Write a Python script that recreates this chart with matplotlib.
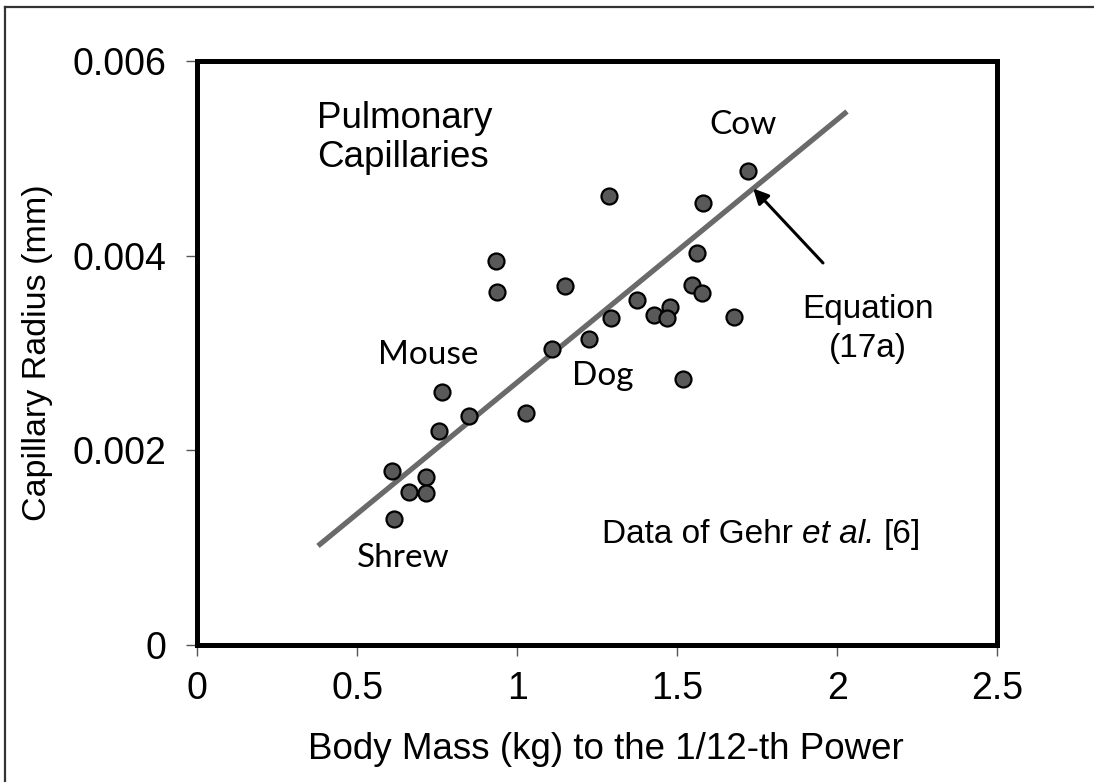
import matplotlib
matplotlib.use("Agg")
import matplotlib.pyplot as plt
import numpy as np
from matplotlib.lines import Line2D

plt.rcParams['font.family'] = ['Liberation Sans', 'DejaVu Sans']

# Body mass (kg) ^ (1/12) and pulmonary capillary radius (mm)
mass_112 = [0.616, 0.609, 0.662, 0.714, 0.714, 0.755, 0.766, 0.849, 1.026,
            0.933, 0.936, 1.109, 1.149, 1.225, 1.287, 1.294, 1.373, 1.428,
            1.477, 1.469, 1.722, 1.581, 1.561, 1.547, 1.578, 1.677, 1.519]
radius_mm = [0.001295, 0.001788, 0.001569, 0.001729, 0.001559, 0.002199,
             0.002602, 0.002356, 0.002381, 0.003945, 0.003630, 0.003041,
             0.003688, 0.003144, 0.004613, 0.003357, 0.003545, 0.003390,
             0.003470, 0.003357, 0.004873, 0.004538, 0.004024, 0.003699,
             0.003614, 0.003373, 0.002733]

# Equation (17a): radius proportional to M^(1/12)
eq_slope = 0.0027
eq_range = [0.377, 2.03]

x_ticks = [0, 0.5, 1, 1.5, 2, 2.5]
x_ticklabels = ['0', '0.5', '1', '1.5', '2', '2.5']
y_ticks = [0, 0.002, 0.004, 0.006]
y_ticklabels = ['0', '0.002', '0.004', '0.006']

fig = plt.figure(figsize=(10.94, 7.82), dpi=100)
ax = fig.add_axes([0.1804, 0.1752, 0.7313, 0.7468])

xs = np.array(eq_range)
ax.plot(xs, eq_slope * xs, color='#6a6a6a', lw=3.8, solid_capstyle='butt', zorder=2)
ax.plot(mass_112, radius_mm, 'o', ms=11.5, mfc='#595959', mec='black', mew=1.6,
        zorder=3)

ax.set_xlim(0, 2.5)
ax.set_ylim(0, 0.006)
ax.set_xticks(x_ticks)
ax.set_xticklabels(x_ticklabels)
ax.set_yticks(y_ticks)
ax.set_yticklabels(y_ticklabels)
ax.tick_params(axis='both', direction='out', length=8, width=1, color='#555555',
               labelsize=27)
ax.tick_params(axis='x', pad=11)
ax.tick_params(axis='y', pad=14)
for s in ax.spines.values():
    s.set_linewidth(3.6)
    s.set_color('black')

ax.set_xlabel('Body Mass (kg) to the 1/12-th Power', fontsize=26.5, labelpad=18)
ax.xaxis.label.set_x(0.51)
ax.set_ylabel('Capillary Radius (mm)', fontsize=24.5, labelpad=14)

# Panel title
ax.text(0.375, 0.005312, 'Pulmonary', fontsize=26.5, ha='left', va='baseline')
ax.text(0.375, 0.004911, 'Capillaries', fontsize=26.5, ha='left', va='baseline')

# Species labels
lab_font = dict(family=['Lato', 'DejaVu Sans'], fontsize=24, ha='center',
                va='baseline')
ax.text(0.721, 0.002887, 'Mouse', **lab_font)
ax.text(1.268, 0.002671, 'Dog', **lab_font)
ax.text(0.643, 0.000801, 'Shrew', **lab_font)
ax.text(1.705, 0.005250, 'Cow', **lab_font)

# Equation label with arrow to the fitted line
ax.text(2.096, 0.003360, 'Equation', fontsize=24, ha='center', va='baseline')
ax.text(2.096, 0.002959, '(17a)', fontsize=24, ha='center', va='baseline')
tip_x = 1.737
ax.annotate('', xy=(tip_x, eq_slope * tip_x), xytext=(1.955, 0.003925),
            arrowprops=dict(arrowstyle='-|>,head_length=0.9,head_width=0.45',
                            color='black', lw=2.2, shrinkA=0, shrinkB=0))

# Data source note, with the italic part set in its own run
space_px = 9
t1 = ax.text(1.265, 0.001048, 'Data of Gehr', fontsize=24, ha='left',
             va='baseline')
t2 = ax.annotate('et al.', xy=(1, 0), xycoords=t1, xytext=(space_px, 0),
                 textcoords='offset pixels', fontsize=24, style='italic',
                 ha='left', va='bottom')
ax.annotate('[6]', xy=(1, 0), xycoords=t2, xytext=(space_px, 0),
            textcoords='offset pixels', fontsize=24, ha='left', va='bottom')

# Frame lines along the top and left edges of the figure
fig.add_artist(Line2D([5 / 1094, 5 / 1094], [0, 1 - 7 / 782],
                      transform=fig.transFigure, color='#333333', lw=1.6))
fig.add_artist(Line2D([5 / 1094, 1], [1 - 7 / 782, 1 - 7 / 782],
                      transform=fig.transFigure, color='#333333', lw=1.6))

fig.savefig('out.png', dpi=100, facecolor='white')
